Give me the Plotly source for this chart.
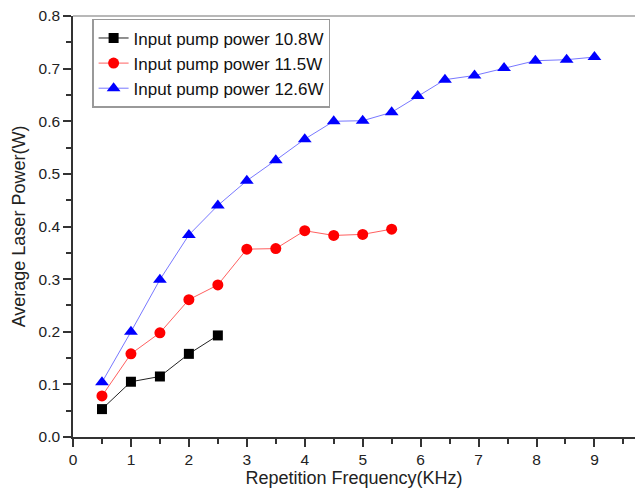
import plotly.graph_objects as go

x_108 = [0.5, 1.0, 1.5, 2.0, 2.5]
y_108 = [0.053, 0.105, 0.115, 0.158, 0.193]

x_115 = [0.5, 1.0, 1.5, 2.0, 2.5, 3.0, 3.5, 4.0, 4.5, 5.0, 5.5]
y_115 = [0.078, 0.158, 0.198, 0.261, 0.289, 0.357, 0.358, 0.392, 0.383, 0.385, 0.395]

x_126 = [0.5, 1.0, 1.5, 2.0, 2.5, 3.0, 3.5, 4.0, 4.5, 5.0, 5.5, 5.95, 6.42, 6.93, 7.44, 7.98, 8.52, 9.0]
y_126 = [0.104, 0.200, 0.299, 0.384, 0.440, 0.487, 0.526, 0.566, 0.600, 0.601, 0.617, 0.648, 0.679, 0.687, 0.701, 0.715, 0.717, 0.722]

names = ["Input pump power 10.8W", "Input pump power 11.5W", "Input pump power 12.6W"]

FONT = "Liberation Sans, Arial, sans-serif"

fig = go.Figure()
fig.add_trace(go.Scatter(x=x_108, y=y_108, name=names[0], mode="lines+markers",
                         line=dict(color="#222222", width=1),
                         marker=dict(symbol="square", size=10, color="#000000")))
fig.add_trace(go.Scatter(x=x_115, y=y_115, name=names[1], mode="lines+markers",
                         line=dict(color="#ff6060", width=1),
                         marker=dict(symbol="circle", size=11, color="#ff0000")))
fig.add_trace(go.Scatter(x=x_126, y=y_126, name=names[2], mode="lines+markers",
                         line=dict(color="#7878ff", width=1),
                         marker=dict(symbol="triangle-up", size=12, color="#0000ff")))

fig.update_layout(
    width=635, height=494,
    margin=dict(l=73, r=0, t=16, b=57),
    plot_bgcolor="white", paper_bgcolor="white",
    font=dict(family=FONT, color="#222222", size=15),
    showlegend=True,
    legend=dict(x=0.034, y=0.993, xanchor="left", yanchor="top",
                bordercolor="#999999", borderwidth=1.5, bgcolor="white",
                font=dict(family=FONT, size=17, color="#111111"),
                tracegroupgap=0, itemsizing="trace"),
    shapes=[dict(type="line", xref="paper", yref="paper", x0=0, x1=1, y0=1, y1=1,
                 line=dict(color="#a0a0a0", width=1.5))],
)
fig.update_xaxes(range=[0, 9.70], tickmode="linear", tick0=0, dtick=1,
                 showgrid=False, zeroline=False, showline=True, linecolor="#333333", linewidth=1.5,
                 ticks="outside", ticklen=8, tickwidth=1.5, tickcolor="#333333",
                 minor=dict(ticks="outside", ticklen=5, tickwidth=1.5, tickcolor="#333333", dtick=0.5, tick0=0),
                 tickfont=dict(size=15.5),
                 title=dict(text="Repetition Frequency(KHz)", font=dict(size=18), standoff=3))
fig.update_yaxes(range=[0, 0.8], tickmode="linear", tick0=0, dtick=0.1, tickformat=".1f",
                 showgrid=False, zeroline=False, showline=True, linecolor="#333333", linewidth=1.5,
                 ticks="outside", ticklen=8, tickwidth=1.5, tickcolor="#333333",
                 minor=dict(ticks="outside", ticklen=5, tickwidth=1.5, tickcolor="#333333", dtick=0.05, tick0=0),
                 tickfont=dict(size=15.5),
                 title=dict(text="Average Laser Power(W)", font=dict(size=18), standoff=8))

fig.write_html("out.html", config={"displayModeBar": False},
               post_script="document.body.style.margin='0px';")
